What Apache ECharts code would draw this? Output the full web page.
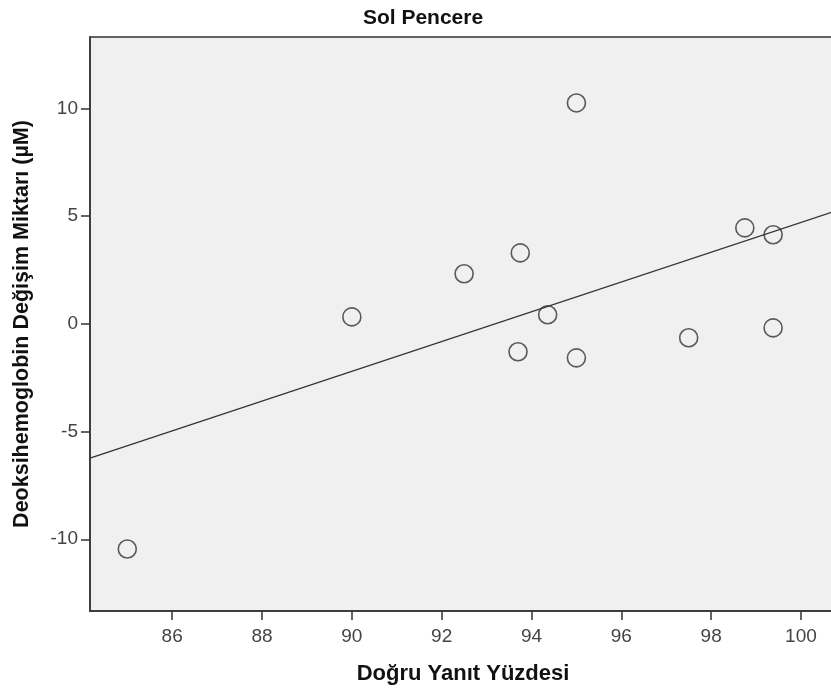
<!DOCTYPE html>
<html>
<head>
<meta charset="utf-8">
<script src="https://cdn.jsdelivr.net/npm/echarts@6/dist/echarts.min.js"></script>
<style>
  html, body { margin: 0; padding: 0; background: #fff; overflow: hidden; }
  #container { width: 836px; height: 697px; }
</style>
</head>
<body>
<div id="container"></div>
<script>
var dom = document.getElementById("container");
var myChart = echarts.init(dom);

// Doğru yanıt yüzdesi (x) ve deoksihemoglobin değişimi (y)
var dogruYanit = [85, 90, 92.5, 93.75, 93.7, 94.36, 95, 95, 97.5, 98.75, 99.38, 99.38];
var deoksiDegisim = [-10.45, 0.32, 2.32, 3.29, -1.30, 0.42, 10.25, -1.58, -0.65, 4.45, 4.13, -0.19];
var xTicks = [86, 88, 90, 92, 94, 96, 98, 100];
var yTicks = [-10, -5, 0, 5, 10];

var xMin = 84.17, xMax = 100.78;
var yMin = -13.33, yMax = 13.31;

var points = dogruYanit.map(function (x, i) { return [x, deoksiDegisim[i]]; });

// least squares fit line
var n = dogruYanit.length;
var mx = dogruYanit.reduce(function (a, b) { return a + b; }, 0) / n;
var my = deoksiDegisim.reduce(function (a, b) { return a + b; }, 0) / n;
var sxy = 0, sxx = 0;
for (var i = 0; i < n; i++) {
    sxy += (dogruYanit[i] - mx) * (deoksiDegisim[i] - my);
    sxx += (dogruYanit[i] - mx) * (dogruYanit[i] - mx);
}
var slope = sxy / sxx;
var icpt = my - slope * mx;
var fitLine = [[xMin, icpt + slope * xMin], [xMax, icpt + slope * xMax]];

var font = "'Liberation Sans', Arial, sans-serif";

option = {
    backgroundColor: '#ffffff',
    animation: false,
    title: {
        text: 'Sol Pencere',
        left: 418,
        top: 3,
        textAlign: 'center',
        textStyle: {
            fontFamily: font,
            fontSize: 21,
            fontWeight: 'bold',
            color: '#111'
        }
    },
    grid: {
        left: 90,
        top: 37,
        right: 0,
        bottom: 86,
        show: true,
        backgroundColor: '#f0f0f0',
        borderColor: '#333',
        borderWidth: 1.5
    },
    xAxis: {
        type: 'value',
        min: xMin,
        max: xMax,
        name: 'Doğru Yanıt Yüzdesi',
        nameLocation: 'middle',
        nameGap: 52,
        nameTextStyle: {
            fontFamily: font,
            fontSize: 22,
            fontWeight: 'bold',
            color: '#111'
        },
        axisLine: { show: true, onZero: false, lineStyle: { color: '#333', width: 1.5 } },
        axisTick: {
            show: true,
            length: 9,
            customValues: xTicks,
            lineStyle: { color: '#333', width: 1.5 }
        },
        axisLabel: {
            customValues: xTicks,
            margin: 16,
            fontFamily: font,
            fontSize: 19,
            color: '#444'
        },
        splitLine: { show: false }
    },
    yAxis: {
        type: 'value',
        min: yMin,
        max: yMax,
        name: 'Deoksihemoglobin Değişim Miktarı (µM)',
        nameLocation: 'middle',
        nameGap: 57,
        nameTextStyle: {
            fontFamily: font,
            fontSize: 21.5,
            fontWeight: 'bold',
            color: '#111'
        },
        axisLine: { show: true, onZero: false, lineStyle: { color: '#333', width: 1.5 } },
        axisTick: {
            show: true,
            length: 9,
            customValues: yTicks,
            lineStyle: { color: '#333', width: 1.5 }
        },
        axisLabel: {
            customValues: yTicks,
            margin: 12,
            fontFamily: font,
            fontSize: 19,
            color: '#444'
        },
        splitLine: { show: false }
    },
    series: [
        {
            type: 'line',
            data: fitLine,
            symbol: 'none',
            silent: true,
            lineStyle: { color: '#333', width: 1.3 },
            z: 2
        },
        {
            type: 'scatter',
            data: points,
            symbol: 'circle',
            symbolSize: 18,
            itemStyle: {
                color: 'rgba(0,0,0,0)',
                borderColor: '#333',
                borderWidth: 1.6
            },
            z: 3
        }
    ]
};

if (option && typeof option === "object") {
    myChart.setOption(option, true);
}
</script>
</body>
</html>
